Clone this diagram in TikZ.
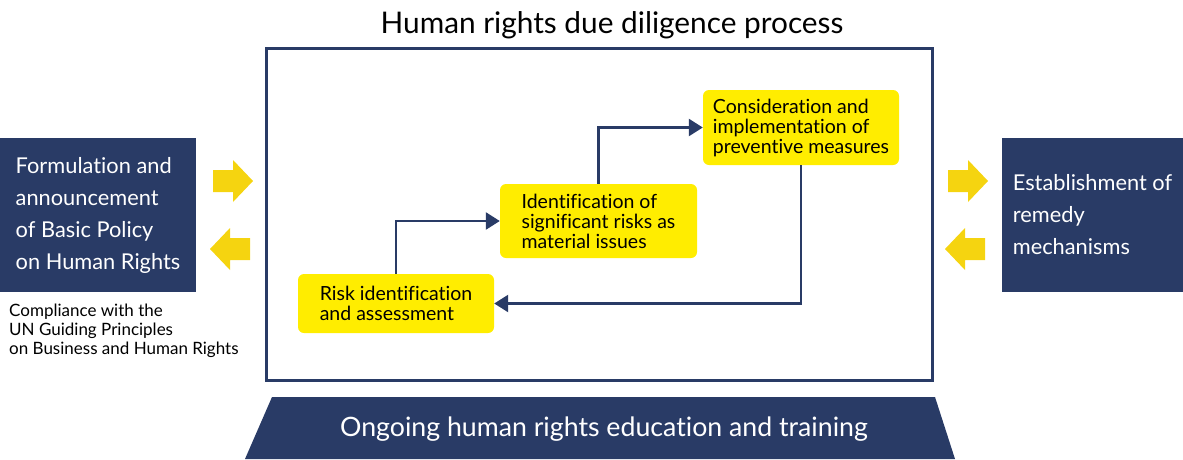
\documentclass[tikz,border=0pt]{standalone}
\usepackage{fontspec}
\setmainfont{Lato}[Ligatures=NoCommon]
\usepackage{tikz}
\usetikzlibrary{arrows.meta, positioning}

\definecolor{navy}{RGB}{41,59,102}
\definecolor{boxyellow}{RGB}{255,237,0}
\definecolor{arrowyellow}{RGB}{245,212,16}

\begin{document}
\begin{tikzpicture}[
      x=1pt, y=-1pt,
      ybox/.style={fill=boxyellow, rounded corners=6pt, align=left,
                   font=\fontsize{19.5}{20}\selectfont, inner sep=0pt},
      darkbox/.style={fill=navy, text=white, align=left, inner sep=0pt,
                      minimum height=154pt, font=\fontsize{21.8}{32}\selectfont},
      flow/.style={-{Triangle[length=14pt, width=17pt]}, draw=navy,
                   line width=2.5pt},
      blockarrow/.pic={\fill[arrowyellow] (0,-11) -- (20,-11) -- (20,-21)
                       -- (40,0) -- (20,21) -- (20,11) -- (0,11) -- cycle;}
    ]
    \useasboundingbox (0,0) rectangle (1183,459);

    % due diligence frame
    \node[draw=navy, line width=3pt, minimum width=666pt, minimum height=332pt]
      (frame) at (599,214) {};
    \node[font=\fontsize{29.8}{32}\selectfont] (title) at (612,25)
      {Human rights due diligence process};

    % the three steps
    \node[ybox, minimum width=196pt, minimum height=59pt] (risk) at (396,303.5)
      {Risk identification\\and assessment};
    \node[ybox, minimum width=197pt, minimum height=74pt] (sig) at (598.5,221)
      {Identification of\\significant risks as\\material issues};
    \node[ybox, minimum width=196pt, minimum height=75pt] (prev) at (801,127.5)
      {Consideration and\\implementation of\\preventive measures};

    \draw[flow] (risk.north) |- (sig.west);
    \draw[flow] (sig.north)  |- (prev.west);
    \draw[flow] (prev.south) |- (risk.east);

    % policy and remedy
    \node[darkbox, minimum width=196pt] (policy) at (98,215)
      {Formulation and\\announcement\\of Basic Policy\\on Human Rights};
    \node[anchor=north west, align=left, inner sep=0pt,
          font=\fontsize{17}{19}\selectfont] (ungp) at (9,304)
      {Compliance with the\\UN Guiding Principles\\on Business and Human Rights};
    \node[darkbox, minimum width=181pt] (remedy) at (1092.5,215)
      {Establishment of\\remedy\\mechanisms};

    \pic at (213,181) {blockarrow};
    \pic[xscale=-1] at (250,249) {blockarrow};
    \pic at (948,181) {blockarrow};
    \pic[xscale=-1] at (985,249) {blockarrow};

    % training band
    \fill[navy] (245,459) -- (272,397) -- (935,397) -- (955,459) -- cycle;
    \node[text=white, font=\fontsize{26.7}{28}\selectfont] (training) at (604,429)
      {Ongoing human rights education and training};
  \end{tikzpicture}
\end{document}
